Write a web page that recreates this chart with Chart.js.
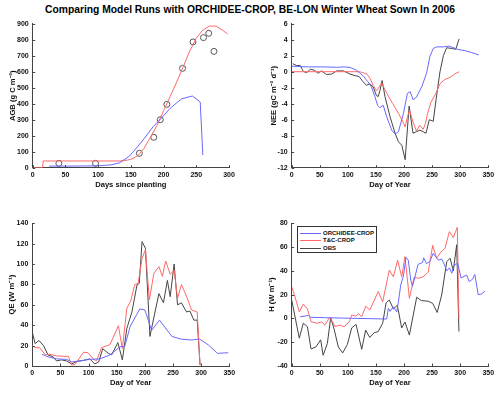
<!DOCTYPE html>
<html>
<head>
<meta charset="utf-8">
<script src="https://cdn.jsdelivr.net/npm/chart.js@4/dist/chart.umd.min.js"></script>
<style>
  html,body{margin:0;padding:0;background:#fff;}
  #wrap{position:relative;width:500px;height:393px;overflow:hidden;font-family:"Liberation Sans",Arial,sans-serif;}
  #title{position:absolute;left:0;top:4px;width:500px;text-align:center;font-weight:bold;font-size:10.3px;color:#000;white-space:nowrap;}
  canvas{position:absolute;}
  #legend{position:absolute;left:297px;top:226px;width:80px;height:27px;border:1px solid #333;background:#fff;box-sizing:border-box;font-size:6px;font-weight:bold;color:#111;}
  #legend .row{position:absolute;left:0;height:8px;line-height:8px;white-space:nowrap;}
  #legend .sw{position:absolute;left:2px;top:4px;width:21px;height:1px;}
  #legend .lb{position:absolute;left:25px;top:0;}
</style>
</head>
<body>
<div id="wrap">
  <div id="title">Comparing Model Runs with ORCHIDEE-CROP, BE-LON Winter Wheat Sown In 2006</div>
  <canvas id="c1" width="250" height="196" style="left:0;top:0;"></canvas>
  <canvas id="c2" width="250" height="196" style="left:250px;top:0;"></canvas>
  <canvas id="c3" width="250" height="197" style="left:0;top:196px;"></canvas>
  <canvas id="c4" width="250" height="197" style="left:250px;top:196px;"></canvas>
  <div id="legend"></div>
</div>
<script>
// ---------------- DATA ----------------
const seriesNames = ['ORCHIDEE-CROP', 'T&C-CROP', 'OBS'];

// AGB (g C m-2) vs days since planting
const agbOrchidee = [[25,10],[60,10],[100,12],[120,18],[133,31],[148,73],[160,130],[170,180],[184,256],[195,302],[210,371],[220,405],[228,431],[244,448],[256,411],[260,79]];
const agbTc = [[0,0],[15,0],[16,42],[132,42],[140,44],[150,52],[160,72],[170,120],[180,190],[190,265],[200,355],[210,445],[220,535],[230,630],[240,730],[250,810],[260,860],[270,885],[280,885],[290,860],[298,835]];
const agbObs = [[40,27],[96,27],[163,90],[185,190],[195,300],[205,396],[229,621],[245,786],[261,813],[269,840],[277,727]];

// NEE (gC m-2 d-1) vs day of year
const neeOrchidee = [[0,0.7],[10,0.65],[30,0.6],[60,0.6],[80,0.55],[95,0.6],[105,0.5],[115,0.2],[127,-0.5],[135,-1.2],[142,-1.9],[148,-3.1],[153,-4.2],[157,-4.5],[163,-4.2],[169,-5.6],[178,-7.3],[184,-7.8],[190,-7.5],[199,-5.2],[206,-2.7],[211,-2.5],[216,-3.5],[222,-3.2],[232,-1.8],[240,-0.2],[246,1.9],[252,2.9],[258,3.1],[270,3.1],[280,3.2],[295,2.8],[310,2.6],[320,2.4],[333,2.1]];
const neeTc = [[0,0],[60,0],[120,0],[126,-0.1],[134,-0.3],[140,-0.9],[145,-1.7],[151,-2.4],[156,-1.9],[160,-1.4],[170,-2.8],[180,-4.0],[190,-5.2],[196,-6.0],[202,-6.9],[206,-5.6],[210,-4.8],[216,-6.3],[222,-7.4],[228,-6.7],[234,-7.2],[238,-6.5],[242,-5.2],[248,-3.8],[256,-2.8],[264,-1.5],[272,-1.0],[282,-0.7],[290,-0.3],[298,0]];
const neeObs = [[2,1.0],[9,0.75],[15,0.8],[21,0],[27,-0.1],[33,0.3],[40,0.2],[47,-0.2],[53,0.1],[62,-0.35],[71,-0.3],[80,0.1],[92,0.1],[104,-0.3],[113,-0.5],[120,-0.6],[127,-1.25],[133,-1.7],[139,-1.5],[145,-1.9],[151,-3.0],[154,-3.1],[157,-2.4],[161,-1.1],[166,-3.1],[175,-5.6],[184,-7.7],[190,-8.75],[196,-9.2],[202,-11.0],[209,-4.3],[216,-7.7],[222,-7.5],[228,-7.3],[234,-7.5],[239,-7.7],[245,-6.0],[252,-6.2],[257,-3.5],[264,0],[270,2.0],[276,3.0],[285,2.9],[292,2.8],[298,4.1]];

// QE (W m-1) vs day of year
const qeOrchidee = [[17,11.5],[28,9],[43,7],[61,6.5],[70,4],[85,5],[102,6.5],[120,7],[138,10.8],[156,19],[164,19],[174,39],[191,56],[200,55],[212,35],[226,45],[248,29],[265,26.3],[283,25.5],[297,26.5],[313,20.6],[329,12.4],[348,13]];
const qeTc = [[0,20],[5,18],[13,18],[23,11],[31,11.5],[43,10],[55,9.5],[64,9.5],[70,1],[76,1.5],[91,13.5],[99,13],[108,7],[114,5],[123,18],[138,21],[153,39.5],[160,17],[168,56.6],[175,64],[182,80],[188,81],[195,105.7],[201,114],[208,64.8],[216,91],[225,97.5],[231,88],[237,103],[245,90],[252,94],[258,66.4],[265,80],[275,67],[283,55],[293,53],[298,1]];
const qeObs = [[0,33],[5,22],[12,25],[20,20],[28,10.8],[37,9],[43,5],[52,6],[61,5],[70,2],[79,4.5],[91,5.5],[102,7],[111,2],[118,4],[125,17],[135,12.5],[141,11],[152,23],[160,6],[168,37],[177,53],[186,79.5],[190,81],[195,122],[201,115.5],[209,29],[218,53],[225,71],[233,62],[240,84],[245,68],[252,100],[258,60],[265,62],[274,53],[280,54],[287,45],[293,45],[298,1]];

// H (W m-1) vs day of year
const hOrchidee = [[15,1.4],[24,2],[30,2.5],[33,1],[60,0.6],[100,0.2],[140,-0.2],[169,-0.5],[172,8.5],[175,6],[181,9.8],[187,5.7],[190,14],[194,28],[199,36],[203.5,51.4],[207.6,49],[212,32],[215,27],[219.5,35],[225,45.5],[233,47],[235,51],[240,46],[246,48],[252,54.8],[261,49],[267,50],[272,45],[276,40],[281,42.6],[285,38],[289.5,45],[295.6,46.3],[301.5,34],[311.5,36.5],[316,31],[322,33],[326,37],[332,20],[338,20.6],[344,23]];
const hTc = [[0,26.7],[6,18],[13.5,5.6],[20.7,12],[28,8],[34.4,-2.8],[44.5,-4],[53.4,-3],[59,-5.6],[68,1.2],[77,-6.8],[86,-5.6],[93,-7],[102.6,-2.8],[106.8,2.8],[114.6,2],[119,4],[124.6,1.5],[132,10.4],[139,7],[154,22.6],[162,14],[173.8,40.7],[181,35],[188.6,49],[195.8,35],[201.7,52],[209.5,16.9],[217.9,34.6],[225.5,33.8],[234,35],[243,39],[251,61.5],[258,50.6],[264,55],[273,59],[280.6,73],[287.7,68],[294.8,76.6],[297.7,0]];
const hObs = [[0,15.5],[13.5,-16.6],[20.7,-4],[28,-7],[34.4,-25.6],[43,-24],[51.6,-18],[56,-31],[63.5,-21],[69.4,0.6],[75.5,-9],[83,-24],[90.7,-29],[99,-22],[106.8,-8],[114.6,-5],[124.6,-26],[131.7,-9.8],[139,-16],[147,-12],[154,-11],[162,-4],[168,13],[173.8,15.5],[181,8],[188,11],[195.8,-8],[201.7,-3],[209.5,-14],[222.5,17.8],[231,15],[243,14.5],[251,12.7],[259,5],[267,19.7],[276,47.7],[282,50.6],[287.7,40],[293.7,62],[297.7,-11]];

// Axis titles
const agbTitle = 'AGB (g C m\u207B\u00B2)';
const neeTitle = 'NEE (gC m\u207B\u00B2 d\u207B\u00B9)';
const qeTitle = 'QE (W m\u207B\u00B9)';
const hTitle = 'H (W m\u207B\u00B9)';
const xTitleTop = 'Days since planting';
const xTitleDoy = 'Day of Year';

// ---------------- STYLE ----------------
const FONT = '"Liberation Sans", Arial, sans-serif';
const BLUE = 'rgb(105,105,255)';
const RED = 'rgb(255,105,105)';
const BLACK = 'rgb(70,70,70)';
const AXIS = '#444';

const toPts = arr => arr.map(p => ({x: p[0], y: p[1]}));

const inwardTicks = {
  id: 'inwardTicks',
  afterDraw(chart) {
    const {ctx, chartArea: a, scales: {x, y}} = chart;
    ctx.save();
    ctx.strokeStyle = AXIS;
    ctx.lineWidth = 1;
    ctx.beginPath();
    x.ticks.forEach(t => {
      const px = Math.round(x.getPixelForValue(t.value)) + 0.5;
      ctx.moveTo(px, a.bottom);
      ctx.lineTo(px, a.bottom - 2.5);
    });
    y.ticks.forEach(t => {
      const py = Math.round(y.getPixelForValue(t.value)) + 0.5;
      ctx.moveTo(a.left, py);
      ctx.lineTo(a.left + 2.5, py);
    });
    ctx.stroke();
    ctx.restore();
  }
};

function lineDs(label, arr, color) {
  return {label, data: toPts(arr), borderColor: color, backgroundColor: color, borderWidth: 1,
          pointRadius: 0, tension: 0, fill: false};
}

function makeChart(id, datasets, cfg) {
  return new Chart(document.getElementById(id), {
    type: 'line',
    data: {datasets},
    plugins: [inwardTicks],
    options: {
      responsive: false,
      animation: false,
      events: [],
      layout: {padding: {top: cfg.padTop, right: cfg.padRight, left: 0, bottom: 0}},
      plugins: {legend: {display: false}, tooltip: {enabled: false}, title: {display: false}},
      scales: {
        x: {
          type: 'linear', min: cfg.xMin, max: cfg.xMax,
          grid: {display: false, drawTicks: false},
          border: {display: true, color: AXIS, width: 1},
          ticks: {stepSize: 50, padding: 3, color: '#111', font: {family: FONT, size: 7, weight: 'bold'}, maxRotation: 0, autoSkip: false},
          title: {display: true, text: cfg.xTitle, color: '#111', font: {family: FONT, size: 7.6, weight: 'bold'}, padding: {top: 0, bottom: cfg.xTitlePad}},
          afterFit(s) { s.height = cfg.xAxisH; }
        },
        y: {
          type: 'linear', min: cfg.yMin, max: cfg.yMax,
          grid: {display: false, drawTicks: false},
          border: {display: true, color: AXIS, width: 1},
          ticks: {stepSize: cfg.yStep, padding: 4, color: '#111', font: {family: FONT, size: 7, weight: 'bold'}, autoSkip: false},
          title: {display: true, text: cfg.yTitle, color: '#111', font: {family: FONT, size: 7.6, weight: 'bold'}, padding: {top: cfg.yTitlePad, bottom: 0}},
          afterFit(s) { s.width = cfg.yAxisW; }
        }
      }
    }
  });
}

// Top-left: AGB
makeChart('c1', [
  lineDs(seriesNames[0], agbOrchidee, BLUE),
  lineDs(seriesNames[1], agbTc, RED),
  {label: seriesNames[2], data: toPts(agbObs), showLine: false, pointStyle: 'circle', pointRadius: 3,
   pointBorderWidth: 1, borderColor: '#555', pointBorderColor: '#555', pointBackgroundColor: 'rgba(0,0,0,0)', backgroundColor: 'rgba(0,0,0,0)'}
], {padTop: 23.7, padRight: 21, xMin: 0, xMax: 300, yMin: 0, yMax: 900, yStep: 100,
    xTitle: xTitleTop, yTitle: agbTitle, xAxisH: 28.3, yAxisW: 32.7, xTitlePad: 7, yTitlePad: 8.7});

// Top-right: NEE
makeChart('c2', [
  lineDs(seriesNames[0], neeOrchidee, BLUE),
  lineDs(seriesNames[1], neeTc, RED),
  lineDs(seriesNames[2], neeObs, BLACK)
], {padTop: 23.7, padRight: 11.7, xMin: 0, xMax: 350, yMin: -12, yMax: 6, yStep: 2,
    xTitle: xTitleDoy, yTitle: neeTitle, xAxisH: 28.3, yAxisW: 41.7, xTitlePad: 7, yTitlePad: 19.2});

// Bottom-left: QE
makeChart('c3', [
  lineDs(seriesNames[0], qeOrchidee, BLUE),
  lineDs(seriesNames[1], qeTc, RED),
  lineDs(seriesNames[2], qeObs, BLACK)
], {padTop: 27.3, padRight: 20.7, xMin: 0, xMax: 350, yMin: 0, yMax: 140, yStep: 20,
    xTitle: xTitleDoy, yTitle: qeTitle, xAxisH: 27, yAxisW: 32.3, xTitlePad: 5.5, yTitlePad: 7.2});

// Bottom-right: H
const hChart = makeChart('c4', [
  lineDs(seriesNames[0], hOrchidee, BLUE),
  lineDs(seriesNames[1], hTc, RED),
  lineDs(seriesNames[2], hObs, BLACK)
], {padTop: 27.3, padRight: 11.7, xMin: 0, xMax: 350, yMin: -40, yMax: 80, yStep: 20,
    xTitle: xTitleDoy, yTitle: hTitle, xAxisH: 27, yAxisW: 41.7, xTitlePad: 5.5, yTitlePad: 17.2});

// HTML legend built from the chart's datasets
const leg = document.getElementById('legend');
hChart.data.datasets.forEach((ds, i) => {
  const row = document.createElement('div');
  row.className = 'row';
  row.style.top = (1.5 + i * 7.7) + 'px';
  const sw = document.createElement('span');
  sw.className = 'sw';
  sw.style.background = ds.borderColor;
  const lb = document.createElement('span');
  lb.className = 'lb';
  lb.textContent = ds.label;
  row.appendChild(sw); row.appendChild(lb);
  leg.appendChild(row);
});
</script>
</body>
</html>
